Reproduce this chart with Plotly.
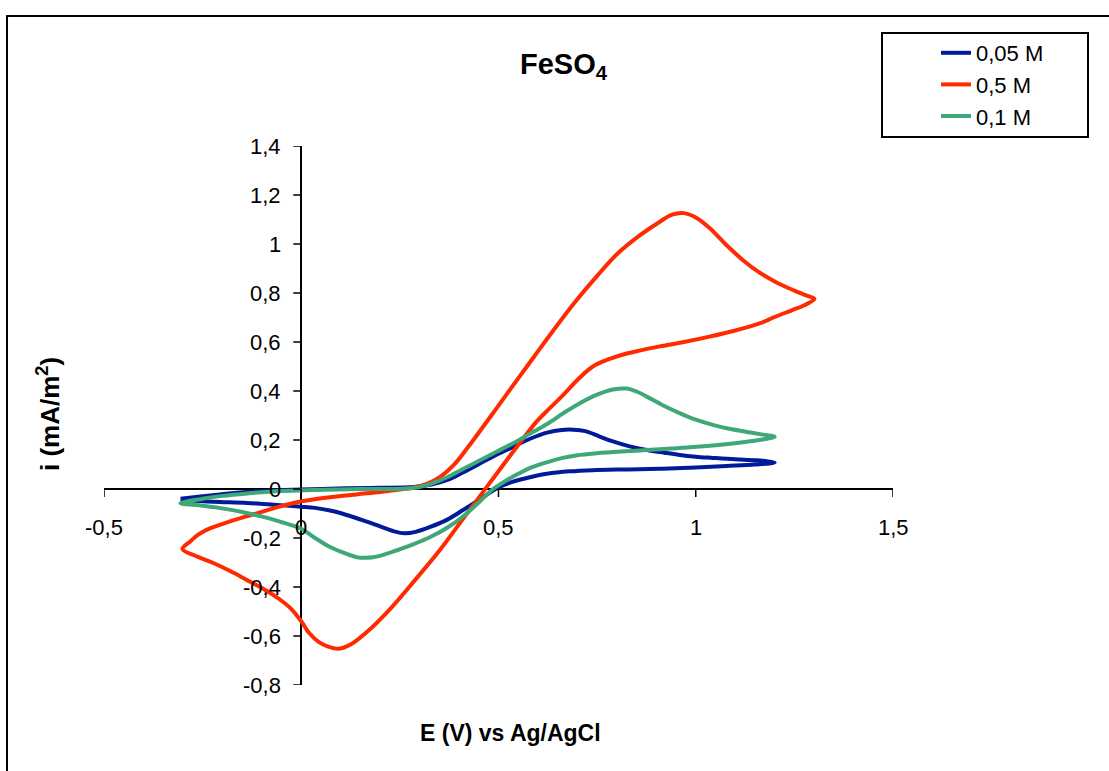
import plotly.graph_objects as go

# ---------------- data ----------------
series_names = ["0,05 M", "0,5 M", "0,1 M"]
series_colors = ["#001a99", "#ff2a00", "#3fa878"]

# 0,05 M : forward scan then reverse scan
e_005 = [-0.306, -0.25, -0.197, -0.10, 0.0, 0.116, 0.20, 0.284, 0.33, 0.37, 0.41, 0.453, 0.495,
         0.537, 0.58, 0.623, 0.66, 0.69, 0.72, 0.755, 0.79, 0.83, 0.876, 0.92, 0.959, 1.0, 1.043,
         1.10, 1.154, 1.20,
         1.15, 1.078, 1.0, 0.916, 0.83, 0.739, 0.68, 0.623, 0.58, 0.537, 0.50, 0.45, 0.41, 0.37,
         0.327, 0.29, 0.263, 0.235, 0.20, 0.157, 0.115, 0.073, 0.035, 0.0, -0.07, -0.137, -0.223,
         -0.306]
i_005 = [-0.040, -0.030, -0.020, -0.008, -0.002, 0.003, 0.005, 0.008, 0.018, 0.037, 0.068, 0.104,
         0.140, 0.172, 0.205, 0.230, 0.241, 0.242, 0.236, 0.215, 0.194, 0.175, 0.159, 0.148, 0.139,
         0.132, 0.127, 0.121, 0.117, 0.108,
         0.100, 0.094, 0.088, 0.083, 0.080, 0.077, 0.072, 0.062, 0.048, 0.030, 0.006, -0.045,
         -0.086, -0.125, -0.155, -0.175, -0.181, -0.173, -0.153, -0.128, -0.106, -0.088, -0.077,
         -0.072, -0.064, -0.057, -0.052, -0.045]

# 0,5 M
e_05 = [-0.301, -0.28, -0.263, -0.23, -0.197, -0.15, -0.111, -0.06, -0.02, 0.03, 0.073, 0.14,
        0.20, 0.25, 0.284, 0.32, 0.352, 0.385, 0.42, 0.478, 0.537, 0.59, 0.638, 0.695, 0.749,
        0.80, 0.858, 0.91, 0.94, 0.97, 1.0, 1.035, 1.075, 1.119, 1.16, 1.205, 1.25, 1.28, 1.301,
        1.275, 1.246, 1.20, 1.162, 1.10, 1.035, 0.97, 0.909, 0.86, 0.825, 0.78, 0.739, 0.70,
        0.663, 0.63, 0.597, 0.537, 0.478, 0.41, 0.352, 0.284, 0.225, 0.167, 0.125, 0.095, 0.068,
        0.045, 0.02, 0.0, -0.025, -0.055, -0.09, -0.137, -0.18, -0.223, -0.265, -0.301]
i_05 = [-0.245, -0.212, -0.188, -0.160, -0.141, -0.117, -0.099, -0.074, -0.057, -0.043, -0.034,
        -0.022, -0.012, -0.002, 0.006, 0.022, 0.049, 0.095, 0.165, 0.292, 0.423, 0.540, 0.645,
        0.765, 0.868, 0.958, 1.035, 1.092, 1.120, 1.126, 1.108, 1.065, 1.000, 0.935, 0.885,
        0.843, 0.810, 0.790, 0.776,
        0.750, 0.731, 0.702, 0.676, 0.647, 0.622, 0.600, 0.582, 0.566, 0.553, 0.530, 0.500,
        0.445, 0.382, 0.330, 0.276, 0.152, 0.025, -0.122, -0.248, -0.380, -0.490, -0.583,
        -0.635, -0.652, -0.643, -0.625, -0.588, -0.540, -0.490, -0.450, -0.413, -0.372, -0.335,
        -0.302, -0.275, -0.245]

# 0,1 M
e_01 = [-0.306, -0.25, -0.20, -0.137, -0.05, 0.03, 0.15, 0.284, 0.33, 0.37, 0.41, 0.453, 0.495,
        0.537, 0.58, 0.623, 0.665, 0.706, 0.75, 0.79, 0.825, 0.85, 0.876, 0.915, 0.959, 1.0,
        1.043, 1.085, 1.129, 1.17, 1.20,
        1.17, 1.129, 1.07, 1.003, 0.94, 0.876, 0.81, 0.749, 0.70, 0.663, 0.62, 0.58, 0.55, 0.522,
        0.50, 0.486, 0.45, 0.41, 0.37, 0.327, 0.285, 0.243, 0.21, 0.182, 0.16, 0.142, 0.11,
        0.073, 0.035, 0.0, -0.05, -0.096, -0.15, -0.197, -0.25, -0.306]
i_01 = [-0.058, -0.040, -0.028, -0.018, -0.008, -0.004, 0.000, 0.004, 0.022, 0.048, 0.082,
        0.117, 0.152, 0.187, 0.226, 0.265, 0.310, 0.350, 0.385, 0.406, 0.410, 0.398, 0.377,
        0.343, 0.310, 0.283, 0.262, 0.246, 0.233, 0.222, 0.213,
        0.202, 0.193, 0.182, 0.172, 0.165, 0.159, 0.153, 0.146, 0.138, 0.127, 0.108, 0.086,
        0.062, 0.037, 0.015, 0.000, -0.055, -0.112, -0.158, -0.196, -0.225, -0.250, -0.268,
        -0.279, -0.281, -0.279, -0.262, -0.237, -0.200, -0.162, -0.135, -0.114, -0.094, -0.080,
        -0.068, -0.058]

x_ticks = [-0.5, 0, 0.5, 1, 1.5]
x_tick_labels = ["-0,5", "0", "0,5", "1", "1,5"]
y_ticks = [1.4, 1.2, 1.0, 0.8, 0.6, 0.4, 0.2, 0, -0.2, -0.4, -0.6, -0.8]
y_tick_labels = ["1,4", "1,2", "1", "0,8", "0,6", "0,4", "0,2", "0", "-0,2", "-0,4", "-0,6", "-0,8"]

# ---------------- figure ----------------
W, H = 1109, 771
L, R, T, B = 104, 893, 146, 685   # plot-area pixel box


def px_x(p):
    return (p - L) / (R - L)


def px_y(p):
    return (B - p) / (B - T)


FONT = "Liberation Sans, Arial, sans-serif"

fig = go.Figure()
for name, color, xs, ys in zip(series_names, series_colors,
                               [e_005, e_05, e_01], [i_005, i_05, i_01]):
    fig.add_trace(go.Scatter(x=xs, y=ys, mode="lines", name=name,
                             line=dict(color=color, width=4, shape="spline", smoothing=1.0)))

shapes = []
# tick marks on the zero-crossing axes
for t in x_ticks:
    shapes.append(dict(type="line", xref="x", yref="y", x0=t, x1=t,
                       ysizemode="pixel", yanchor=0, y0=0, y1=-8,
                       line=dict(color="black", width=1.5)))
for t in y_ticks:
    shapes.append(dict(type="line", xref="x", yref="y", y0=t, y1=t,
                       xsizemode="pixel", xanchor=0, x0=-8, x1=0,
                       line=dict(color="black", width=1.5)))
# outer chart frame
shapes.append(dict(type="rect", xref="paper", yref="paper",
                   x0=px_x(7), x1=px_x(1130), y0=px_y(16), y1=px_y(790),
                   line=dict(color="black", width=2), fillcolor="rgba(0,0,0,0)"))
# legend frame
shapes.append(dict(type="rect", xref="paper", yref="paper",
                   x0=px_x(882), x1=px_x(1088), y0=px_y(33), y1=px_y(137),
                   line=dict(color="black", width=2), fillcolor="rgba(0,0,0,0)"))

annotations = []
for t, lab in zip(x_ticks, x_tick_labels):
    annotations.append(dict(x=t, y=0, xref="x", yref="y", text=lab, showarrow=False,
                            xanchor="center", yanchor="top", yshift=-24,
                            font=dict(family=FONT, size=22, color="black")))
for t, lab in zip(y_ticks, y_tick_labels):
    annotations.append(dict(x=0, y=t, xref="x", yref="y", text=lab, showarrow=False,
                            xanchor="right", yanchor="middle", xshift=-18,
                            font=dict(family=FONT, size=22, color="black")))
# title and axis titles
annotations.append(dict(x=px_x(564), y=px_y(66), xref="paper", yref="paper",
                        text="<b>FeSO<sub>4</sub></b>", showarrow=False,
                        xanchor="center", yanchor="middle",
                        font=dict(family=FONT, size=29, color="black")))
annotations.append(dict(x=px_x(510), y=px_y(733), xref="paper", yref="paper",
                        text="<b>E (V) vs Ag/AgCl</b>", showarrow=False,
                        xanchor="center", yanchor="middle",
                        font=dict(family=FONT, size=23, color="black")))
annotations.append(dict(x=px_x(48), y=px_y(414), xref="paper", yref="paper",
                        text="<b>i (mA/m<sup>2</sup>)</b>", showarrow=False, textangle=-90,
                        xanchor="center", yanchor="middle",
                        font=dict(family=FONT, size=26, color="black")))

fig.update_layout(
    width=W, height=H, autosize=False,
    margin=dict(l=L, r=W - R, t=T, b=H - B, pad=0),
    paper_bgcolor="white", plot_bgcolor="white",
    xaxis=dict(range=[-0.5, 1.5], showgrid=False, showticklabels=False, ticks="",
               zeroline=True, zerolinecolor="black", zerolinewidth=1.5, showline=False),
    yaxis=dict(range=[-0.8, 1.4], showgrid=False, showticklabels=False, ticks="",
               zeroline=True, zerolinecolor="black", zerolinewidth=1.5, showline=False),
    showlegend=True,
    legend=dict(x=px_x(936), y=px_y(32), xanchor="left", yanchor="top",
                bgcolor="rgba(0,0,0,0)", borderwidth=0, tracegroupgap=0,
                font=dict(family=FONT, size=22, color="black")),
    shapes=shapes, annotations=annotations,
)

fig.write_html("out.html", config={"displayModeBar": False},
               post_script="document.body.style.margin='0';")
